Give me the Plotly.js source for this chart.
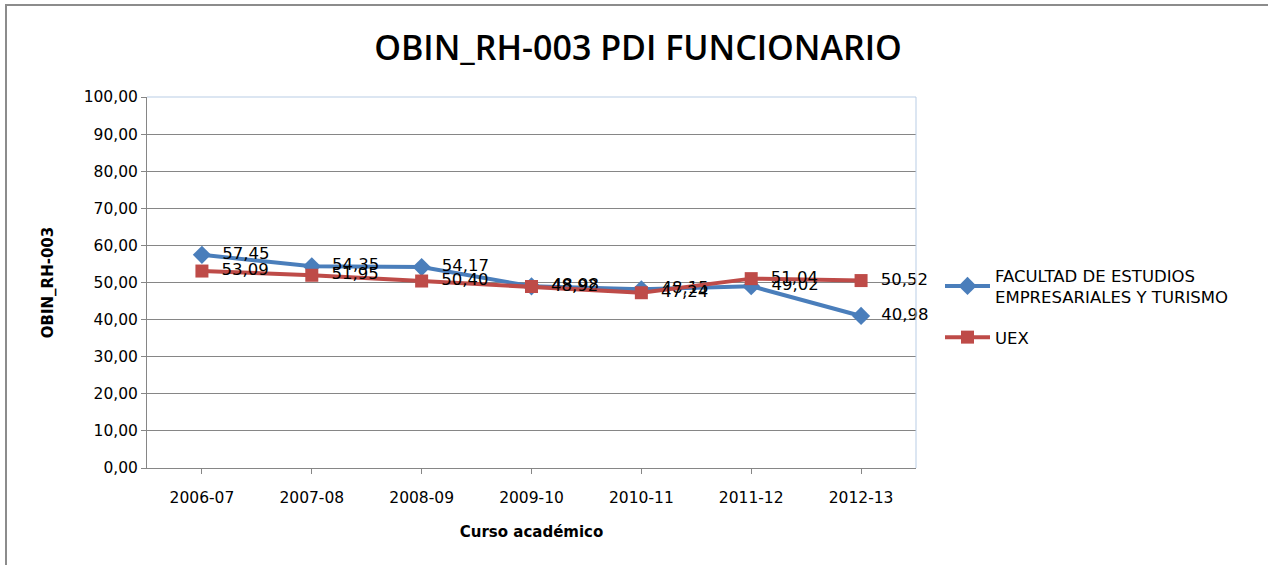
<!DOCTYPE html>
<html><head><meta charset="utf-8">
<script src="https://cdn.plot.ly/plotly-3.0.1.min.js"></script>
<style>html,body{margin:0;padding:0;background:#fff;}#chart{width:1268px;height:565px;}</style>
</head><body><div id="chart"></div>
<script>
const categories = ["2006-07","2007-08","2008-09","2009-10","2010-11","2011-12","2012-13"];
const facultad = [57.45, 54.35, 54.17, 48.98, 48.15, 49.02, 40.98];
const uex = [53.09, 51.95, 50.40, 48.92, 47.24, 51.04, 50.52];
const seriesNames = ["FACULTAD DE ESTUDIOS<br>EMPRESARIALES Y TURISMO", "UEX"];
const yTicks = [0,10,20,30,40,50,60,70,80,90,100];

const fmt = v => "\u00a0\u00a0" + v.toFixed(2).replace('.', ',');
const FONT = "DejaVu Sans, Verdana, sans-serif";
const labelFont = {family: FONT, size: 16.5, color: "#000"};

const traces = [
  {x: categories, y: facultad, name: seriesNames[0], legendgroup: "a", type: "scatter", mode: "lines+markers+text",
   line: {color: "#4a7ebb", width: 4}, marker: {symbol: "diamond", size: 14, color: "#4a7ebb"},
   text: facultad.map(fmt), textposition: "middle right", textfont: labelFont, cliponaxis: false},
  {x: categories, y: uex, name: seriesNames[1], legendgroup: "b", type: "scatter", mode: "lines+markers+text",
   line: {color: "#be4b48", width: 4}, marker: {symbol: "square", size: 13, color: "#be4b48"},
   text: uex.map(fmt), textposition: "middle right", textfont: labelFont, cliponaxis: false}
];

const L = 147, R = 916, T = 97, B = 468, W = 1268, H = 565;
const pw = R - L, ph = B - T;
const px = x => (x - L) / pw, py = y => (B - y) / ph;

const layout = {
  width: W, height: H,
  margin: {l: L, r: W - R, t: T, b: H - B, pad: 0},
  paper_bgcolor: "#fff", plot_bgcolor: "#fff",
  separators: ",.",
  title: {text: "OBIN_RH-003 PDI FUNCIONARIO", font: {family: "Open Sans, sans-serif", size: 34, weight: 600, color: "#000"},
          x: 638 / W, xanchor: "center", xref: "container", y: 1 - 48 / H, yanchor: "middle", yref: "container"},
  xaxis: {type: "category", range: [-0.5, 6.5], showgrid: false, zeroline: false,
          showline: true, linecolor: "#868686", linewidth: 1,
          ticks: "outside", ticklen: 5, tickcolor: "#868686", ticklabelstandoff: 10,
          tickfont: {family: FONT, size: 15.5, color: "#000"},
          title: {text: "<b>Curso académico</b>", font: {family: FONT, size: 15, color: "#000"}, standoff: 20}},
  yaxis: {range: [0, 100], tickvals: yTicks, tickformat: ".2f",
          showgrid: true, gridcolor: "#868686", gridwidth: 1, zeroline: false,
          showline: true, linecolor: "#868686", linewidth: 1,
          ticks: "outside", ticklen: 5, tickcolor: "#868686",
          tickfont: {family: FONT, size: 15.5, color: "#000"},
          title: {text: "<b>OBIN_RH-003</b>", font: {family: FONT, size: 15, color: "#000"}, standoff: 26}},
  showlegend: true,
  legend: {x: px(940), y: py(258), xanchor: "left", yanchor: "top", bgcolor: "rgba(0,0,0,0)",
           font: {family: FONT, size: 16.5, color: "#000"},
           tracegroupgap: 16, itemwidth: 45},
  shapes: [
    {type: "line", xref: "paper", yref: "paper", x0: 0, x1: 1, y0: 1, y1: 1, line: {color: "#b9cde5", width: 1}},
    {type: "line", xref: "paper", yref: "paper", x0: 1, x1: 1, y0: 0, y1: 1, line: {color: "#b9cde5", width: 1}},
    {type: "rect", xref: "paper", yref: "paper", x0: px(6), x1: px(1290), y0: py(590), y1: py(5), line: {color: "#8c8c8c", width: 2}, fillcolor: "rgba(0,0,0,0)", layer: "below"}
  ]
};

Plotly.newPlot("chart", traces, layout, {displayModeBar: false, staticPlot: true});
</script></body></html>
